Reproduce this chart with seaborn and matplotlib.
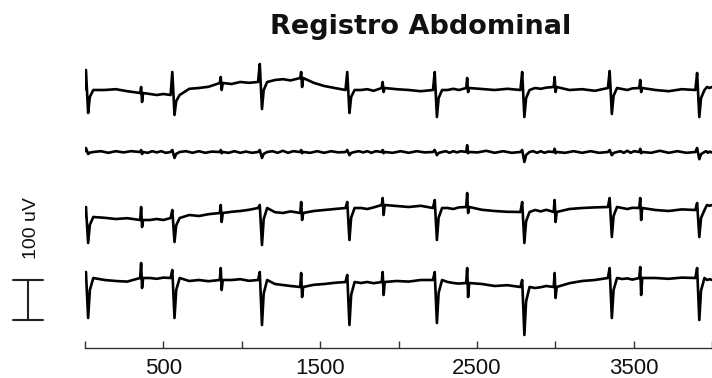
import numpy as np
import pandas as pd
import matplotlib
matplotlib.use("Agg")
import matplotlib.pyplot as plt
import seaborn as sns

# ---------------- data ----------------
# beat times in samples
maternal_times = [13, 564, 1122, 1680, 2238, 2796, 3354, 3912]
fetal_times = [361, 869, 1382, 1902, 2441, 2999, 3545]

channels = ["Canal 1", "Canal 2", "Canal 3", "Canal 4"]

# per event (time-ordered: M0 F0 M1 F1 ... M7), values in uV relative to channel level
ch1_base = [0, -7.5, -12.5, 17.5, 20, 30, 0, 5, 0, 5, 0, 7.5, 5, 5, 0]
ch1_top = [50, 7.5, 45, 32.5, 65, 45, 45, 20, 45, 30, 45, 32.5, 47.5, 25, 42.5]
ch1_bot = [-57.5, -30, -62.5, 0, -47.5, 7.5, -57.5, -5, -67.5, -5, -67.5, -5, -60, -5, -67.5]
ch1_mid = [[0, 2, -3], [-10, -12.5, -10], [3, 5, 8], [15, 20, 18], [25, 27, 24],
           [18, 10, 5], [0, 2, -2], [2, 0, -3], [0, 3, 0], [2.5, 0, 3], [5, 3, 6],
           [0, 2, -2], [2.5, 0, 4], [0, -3, 2], [7.5, 5, 7.5]]

ch2_base = [0] * 15
ch2_top = [10, 5, 5, 5, 5, 5, 5, 5, 5, 17, 5, 8, 5, 8, 10]
ch2_bot = [-5, -5, -15, -3, -15, -3, -8, -3, -8, -3, -25, -3, -8, -3, -18]
ch2_mid = [[2, -2, 2, -1, 2], [-2, 2, -1, 2, -2], [2, -2, 2, -2, 1], [-2, 2, -2, 1, -2],
           [2, -2, 3, -2, 2], [-2, 2, -2, 2, -1], [2, -1, 2, -2, 2], [-2, 2, -2, 2, -1],
           [2, -2, 2, -1, 2], [-1, 3, -2, 2, -2], [2, -2, 2, -2, 1], [-2, 2, -2, 2, -2],
           [2, -2, 3, -2, 2], [-2, 3, -2, 2, -2], [2, -2, 1, -1, 1]]

ch3_base = [-10, -17.5, -12.5, 0, 12.5, 0, 12.5, 20, 12.5, 15, 2.5, 2.5, 15, 12.5, 7.5]
ch3_top = [15, 15, 7.5, 20, 20, 27.5, 27.5, 37.5, 32.5, 50, 27.5, 32.5, 37.5, 37.5, 25]
ch3_bot = [-75, -35, -72.5, -22.5, -80, -17.5, -67.5, -5, -67.5, 0, -75, -22.5, -60, -17.5, -60]
ch3_mid = [[-12, -15, -13], [-17.5, -15, -17.5], [-5, -7.5, -3], [3, 5, 8], [2, 0, 4],
           [5, 7.5, 10], [12.5, 10, 14], [17.5, 15, 18], [12.5, 10, 14], [8, 5, 3],
           [7.5, 4, 8], [10, 12.5, 14], [12.5, 10, 13], [7.5, 5, 9], [20, 18, 20]]

ch4_base = [5, 5, 5, 0, 0, -17.5, -5, -5, 0, -7.5, -17.5, -17.5, 5, 5, 5]
ch4_top = [20, 42.5, 25, 30, 20, 17.5, 12.5, 20, 20, 30, 0, 17.5, 30, 32.5, 30]
ch4_bot = [-95, -20, -95, -25, -112.5, -42.5, -112.5, -37.5, -107.5, -42.5, -137.5, -45, -95, -37.5, -100]
ch4_mid = [[0, -2.5, -4], [5, 3, 6], [-2.5, 0, -3], [0, 2, -2], [-10, -12.5, -15],
           [-12, -10, -7], [-7.5, -5, -8], [-2.5, -4, 0], [-5, -7.5, -9], [-10, -15, -13],
           [-20, -18, -15], [-8, -2.5, 0], [2.5, 4, 1], [5, 3, 6], [0, 2, 0]]

xtick_labels = ["500", "1500", "2500", "3500"]

# ---------------- layout / styling ----------------
channel_level = [645, 490, 337.5, 170]          # vertical placement (uV)
X_MAX = 3976

events = sorted([(t, "M") for t in maternal_times] + [(t, "F") for t in fetal_times])


def build(base, top, bot, mid, level):
    xs, ys = [], []
    for i, (t, kind) in enumerate(events):
        b, up, dn = base[i], top[i], bot[i]
        if kind == "M":
            shape = [(-18, b), (-7, up), (7, dn), (18, b + 0.3 * (dn - b)), (40, b)]
            end = t + 40
        else:
            shape = [(-9, b), (-3, up), (3, dn), (10, b)]
            end = t + 10
        for dx, v in shape:
            xs.append(t + dx)
            ys.append(v + level)
        nxt = events[i + 1][0] - 20 if i + 1 < len(events) else X_MAX + 40
        m = mid[i]
        for k, v in enumerate(m):
            xs.append(end + (nxt - end) * (k + 1) / (len(m) + 1))
            ys.append(v + level)
    return xs, ys


rows = []
all_ch = [
    (ch1_base, ch1_top, ch1_bot, ch1_mid),
    (ch2_base, ch2_top, ch2_bot, ch2_mid),
    (ch3_base, ch3_top, ch3_bot, ch3_mid),
    (ch4_base, ch4_top, ch4_bot, ch4_mid),
]
for name, lvl, (b, tp, bt, md) in zip(channels, channel_level, all_ch):
    xs, ys = build(b, tp, bt, md, lvl)
    for x, y in zip(xs, ys):
        rows.append({"sample": x, "value": y, "channel": name})
df = pd.DataFrame(rows)

sns.set_theme(style="white")
plt.rcParams["font.family"] = ["Liberation Sans", "DejaVu Sans"]

fig = plt.figure(figsize=(7.12, 3.78), dpi=100)
ax = fig.add_axes([85 / 712, 30 / 378, 1 - 85 / 712, 298 / 378])

sns.lineplot(data=df, x="sample", y="value", units="channel", estimator=None,
             sort=False, color="black", linewidth=1.9, ax=ax, legend=False)

ax.set_xlim(0, X_MAX)
ax.set_ylim(0, 745)
for s in ["top", "right", "left"]:
    ax.spines[s].set_visible(False)
ax.spines["bottom"].set_color("#333333")
ax.spines["bottom"].set_linewidth(1.0)

ax.set_xticks([0, 500, 1000, 1500, 2000, 2500, 3000, 3500, 4000])
ax.set_xticklabels(["", xtick_labels[0], "", xtick_labels[1], "", xtick_labels[2], "",
                    xtick_labels[3], ""])
ax.tick_params(axis="x", direction="in", length=5, width=1, color="#333333",
               labelsize=16, pad=7, labelcolor="#111111", bottom=True)
ax.set_yticks([])
ax.set_xlabel("")
ax.set_ylabel("")

# scale bar 100 uV
bx = -361
ax.plot([bx, bx], [70, 170], color="#222222", lw=1.5, clip_on=False)
ax.plot([-457, -266], [70, 70], color="#222222", lw=1.5, clip_on=False)
ax.plot([-457, -266], [170, 170], color="#222222", lw=1.5, clip_on=False)
ax.text(-342, 300, "100 uV", rotation=90, ha="center", va="center",
        fontsize=14, color="#111111", clip_on=False)

fig.text(421 / 712, 1 - 27 / 378, "Registro Abdominal", ha="center", va="center",
         fontsize=19.5, fontweight="bold", color="#111111",
         family=["DejaVu Sans"])

fig.savefig("out.png", dpi=100)
